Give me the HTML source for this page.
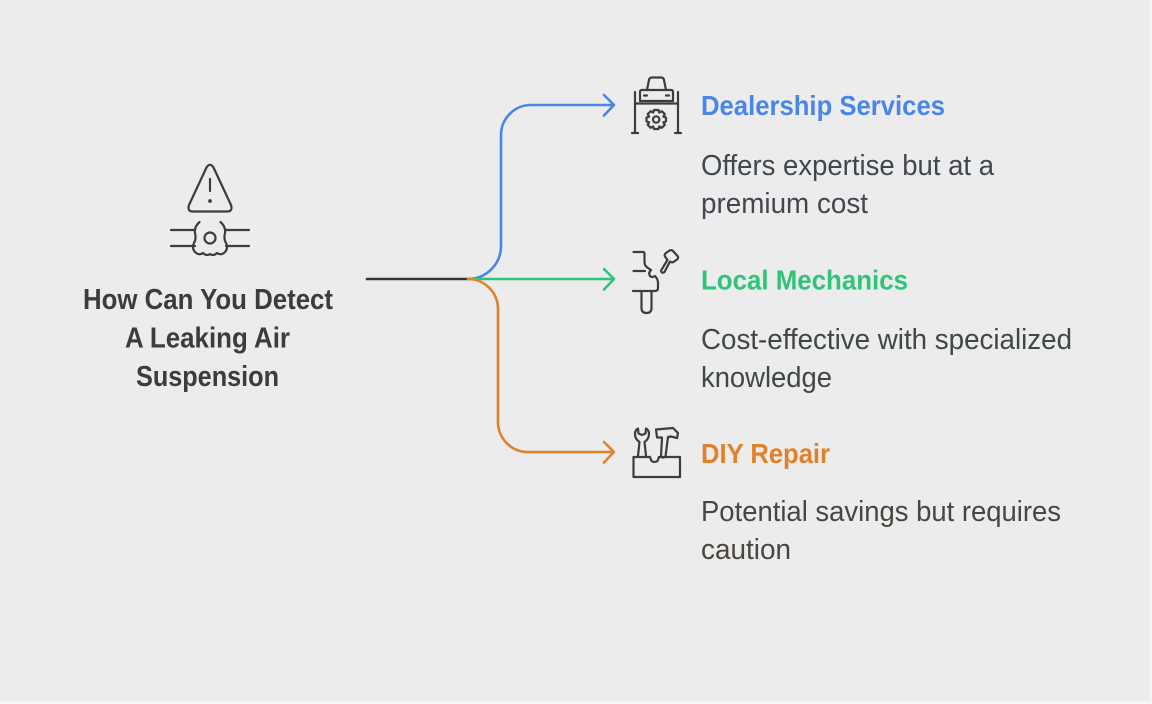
<!DOCTYPE html>
<html>
<head>
<meta charset="utf-8">
<style>
  html,body{margin:0;padding:0;background:#ececec;}
  body{width:1152px;height:704px;overflow:hidden;}
  svg{display:block;}
  .t{font-family:"Liberation Sans",Arial,sans-serif;}
</style>
</head>
<body>
<svg width="1152" height="704" viewBox="0 0 1152 704" xmlns="http://www.w3.org/2000/svg">
  <rect x="0" y="0" width="1152" height="704" fill="#ececec"/>
  <rect x="1150" y="0" width="2" height="704" fill="#f5f5f5"/>
  <rect x="0" y="701" width="1152" height="3" fill="#f5f5f5"/>

  <!-- Warning / leaking pipe icon -->
  <g fill="none" stroke="#3d3d3d" stroke-width="2.2" stroke-linecap="round" stroke-linejoin="round">
    <path d="M206.5 167.5 Q210 162 213.5 167.5 L231 205 Q233 211.5 227 211.5 L193 211.5 Q187 211.5 189 205 Z"/>
    <line x1="210" y1="179" x2="210" y2="191"/>
    <line x1="171" y1="230" x2="195" y2="230"/>
    <line x1="171" y1="246" x2="195" y2="246"/>
    <line x1="226" y1="230" x2="249" y2="230"/>
    <line x1="226" y1="246" x2="249" y2="246"/>
    <path d="M199.5 222 Q194 227 195 233 Q196.5 239 194 243 Q191.5 248 195 252 Q199 256 203 253 Q206.5 256.5 210 254 Q213.5 256.5 217 253 Q221 256 225 252 Q228.5 248 226 243 Q223.5 239 225 233 Q226 227 220.5 222"/>
    <circle cx="210" cy="238" r="5.5"/>
  </g>
  <circle cx="210" cy="201" r="1.9" fill="#3d3d3d"/>

  <!-- Title -->
  <g class="t" font-weight="bold" font-size="29" fill="#3c3c3c">
    <text x="83" y="309" textLength="250" lengthAdjust="spacingAndGlyphs">How Can You Detect</text>
    <text x="125" y="347.5" textLength="165" lengthAdjust="spacingAndGlyphs">A Leaking Air</text>
    <text x="136" y="386" textLength="143" lengthAdjust="spacingAndGlyphs">Suspension</text>
  </g>

  <!-- Connectors -->
  <g fill="none" stroke-width="2.6" stroke-linecap="round" stroke-linejoin="round">
    <line x1="367" y1="279" x2="468" y2="279" stroke="#333333"/>
    <path d="M468 279 A33 33 0 0 0 501 246 L501 135 A30 30 0 0 1 531 105 L613 105" stroke="#4a86e8"/>
    <path d="M604 95 L614 105 L604 115.5" stroke="#4a86e8"/>
    <path d="M468 279 L613 279" stroke="#2fc47a"/>
    <path d="M604 269 L614 279 L604 289.5" stroke="#2fc47a"/>
    <path d="M468 279 A30 30 0 0 1 498 309 L498 422 A30 30 0 0 0 528 452 L613 452" stroke="#e0822c"/>
    <path d="M604 442 L614 452 L604 462.5" stroke="#e0822c"/>
  </g>

  <!-- Car lift icon -->
  <g fill="none" stroke="#3d3d3d" stroke-width="2.2" stroke-linecap="round" stroke-linejoin="round">
    <line x1="635" y1="92" x2="635" y2="133"/>
    <line x1="678" y1="92" x2="678" y2="133"/>
    <line x1="632" y1="133" x2="638" y2="133"/>
    <line x1="675" y1="133" x2="681" y2="133"/>
    <line x1="635" y1="103.5" x2="678" y2="103.5"/>
    <path d="M647 90 L649 80 Q649.5 77.5 652 77.5 L661 77.5 Q663.5 77.5 664 80 L666 90"/>
    <path d="M642 90 L671 90 Q673 90 673 92 L673 101 L640 101 L640 92 Q640 90 642 90 Z"/>
    <line x1="644" y1="95.5" x2="647" y2="95.5"/>
    <line x1="666" y1="95.5" x2="669" y2="95.5"/>
    <path d="M654 110 L658.5 110 L659.3 112.6 L661.8 111.2 L664.8 114.2 L663.4 116.7 L666 117.5 L666 121.5 L663.4 122.3 L664.8 124.8 L661.8 127.8 L659.3 126.4 L658.5 129 L654 129 L653.2 126.4 L650.7 127.8 L647.7 124.8 L649.1 122.3 L646.5 121.5 L646.5 117.5 L649.1 116.7 L647.7 114.2 L650.7 111.2 L653.2 112.6 Z"/>
    <circle cx="656.2" cy="119.5" r="3.2"/>
  </g>

  <!-- Local mechanics icon -->
  <g fill="none" stroke="#3d3d3d" stroke-width="2.2" stroke-linecap="round" stroke-linejoin="round">
    <path d="M633.5 252 L643 252 Q644.5 252 644.5 254 L644.5 262 Q644.5 266 648 268 L651 270"/>
    <line x1="633.5" y1="271" x2="645" y2="271"/>
    <path d="M651 270 Q648 273 650 276 Q652 278 655 276 Q658 279 658 283 L658 288 Q658 291 655 291 L633 291"/>
    <path d="M641.5 291 L641.5 308 Q641.5 313 646.5 313 Q651.5 313 651.5 308 L651.5 291"/>
    <path d="M662 269 L667.5 260 L665 256.5 Q664 254.5 666 253 L669.5 250.5 Q671.5 249.5 673 251 L677.5 256 Q679 258 677 259.5 L673.5 262 Q671.5 263 670 261.5 L664.5 272 Q663 273.5 661.5 272 Q660.5 270.5 662 269 Z"/>
  </g>

  <!-- DIY toolbox icon -->
  <g fill="none" stroke="#3d3d3d" stroke-width="2.2" stroke-linecap="round" stroke-linejoin="round">
    <path d="M633.5 457 L650 457 L651.5 461 Q654.5 463 657.5 461 L659 457 L680 457 L680 477 L633.5 477 Z"/>
    <line x1="634" y1="469" x2="679.5" y2="469" stroke-width="0"/>
    <path d="M638 456 L639.5 442 Q635 439 635 434 Q635 430 638 428.5 L638.5 433.5 L642 435 L645.5 433.5 L646 428.5 Q649 430 649 434 Q649 439 644.5 442 L646 456"/>
    <path d="M656 429.5 L673 428 L678 433 L677 438 L671 436.5 L668 437 L665.5 456.5 Q663 458.5 661 456.5 L662 437.5 L657 437.5 Z"/>
  </g>

  <!-- Dealership Services -->
  <g class="t">
    <text x="701" y="115" font-size="28" font-weight="bold" fill="#4a86e8" textLength="244" lengthAdjust="spacingAndGlyphs">Dealership Services</text>
    <text x="701" y="175" font-size="28.5" fill="#41474f" textLength="293" lengthAdjust="spacingAndGlyphs">Offers expertise but at a</text>
    <text x="701" y="213" font-size="28.5" fill="#41474f" textLength="167" lengthAdjust="spacingAndGlyphs">premium cost</text>

    <text x="701" y="289.5" font-size="28" font-weight="bold" fill="#2fc47a" textLength="207" lengthAdjust="spacingAndGlyphs">Local Mechanics</text>
    <text x="701" y="349" font-size="28.5" fill="#404843" textLength="371" lengthAdjust="spacingAndGlyphs">Cost-effective with specialized</text>
    <text x="701" y="387" font-size="28.5" fill="#404843" textLength="131" lengthAdjust="spacingAndGlyphs">knowledge</text>

    <text x="701" y="463" font-size="28" font-weight="bold" fill="#e0822c" textLength="129" lengthAdjust="spacingAndGlyphs">DIY Repair</text>
    <text x="701" y="521" font-size="28.5" fill="#4a4540" textLength="360" lengthAdjust="spacingAndGlyphs">Potential savings but requires</text>
    <text x="701" y="559" font-size="28.5" fill="#4a4540" textLength="90" lengthAdjust="spacingAndGlyphs">caution</text>
  </g>
</svg>
</body>
</html>
